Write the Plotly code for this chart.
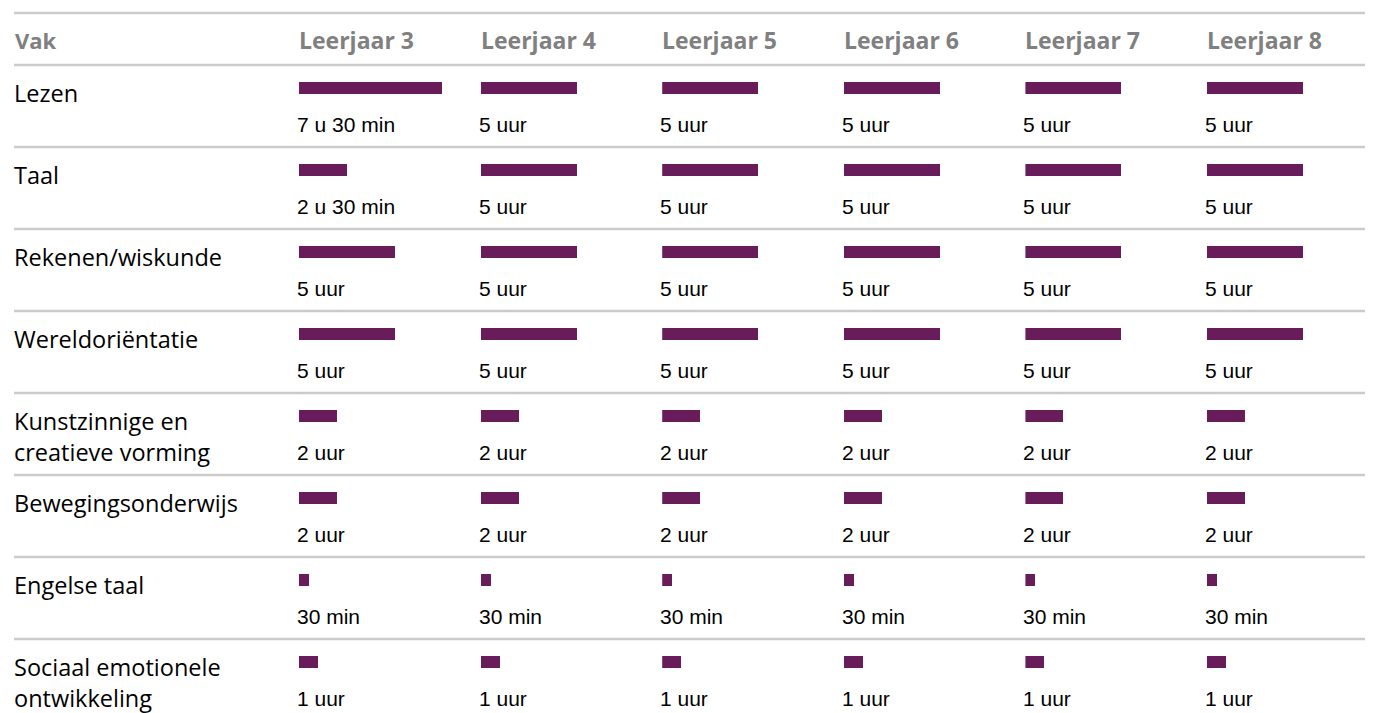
import plotly.graph_objects as go

# ---- data ----
subjects = ["Lezen", "Taal", "Rekenen/wiskunde", "Wereldoriëntatie",
            "Kunstzinnige en<br>creatieve vorming", "Bewegingsonderwijs",
            "Engelse taal", "Sociaal emotionele<br>ontwikkeling"]
years = ["Leerjaar 3", "Leerjaar 4", "Leerjaar 5", "Leerjaar 6", "Leerjaar 7", "Leerjaar 8"]
hours_l3 = [7.5, 2.5, 5, 5, 2, 2, 0.5, 1]
hours_l4 = [5, 5, 5, 5, 2, 2, 0.5, 1]
hours_l5 = [5, 5, 5, 5, 2, 2, 0.5, 1]
hours_l6 = [5, 5, 5, 5, 2, 2, 0.5, 1]
hours_l7 = [5, 5, 5, 5, 2, 2, 0.5, 1]
hours_l8 = [5, 5, 5, 5, 2, 2, 0.5, 1]
label_l3 = ["7 u 30 min", "2 u 30 min", "5 uur", "5 uur", "2 uur", "2 uur", "30 min", "1 uur"]
label_l4 = ["5 uur", "5 uur", "5 uur", "5 uur", "2 uur", "2 uur", "30 min", "1 uur"]
label_l5 = label_l4
label_l6 = label_l4
label_l7 = label_l4
label_l8 = label_l4

hours = [hours_l3, hours_l4, hours_l5, hours_l6, hours_l7, hours_l8]
labels = [label_l3, label_l4, label_l5, label_l6, label_l7, label_l8]

# ---- layout constants (pixels, in page coordinates; page body has an 8px margin) ----
OFF = 8
W, H = 1373 - OFF, 713 - OFF
ROW_H = 82
ROW0_CENTER = 88 - OFF
COL0 = 299 - OFF
COL_STEP = 181.6
PX_PER_HOUR = 19.1
COL_W = 160
BAR_COLOR = "#681d5a"
LINE_COLOR = "#cbcbcb"
LABEL_FONT = "Open Sans"
VALUE_FONT = "Arial, Liberation Sans"

def ypx(p):
    """page pixel -> y data units"""
    return (p - OFF - ROW0_CENTER) / ROW_H

def xpx(p):
    return (p - OFF) / W

rows = list(range(len(subjects)))
fig = go.Figure()
layout = {}
annotations = []
for j, yr in enumerate(years):
    ax = "x" if j == 0 else f"x{j+1}"
    left = COL0 + COL_STEP * j
    key = "xaxis" if j == 0 else f"xaxis{j+1}"
    layout[key] = dict(domain=[left / W, (left + COL_W) / W], range=[0, COL_W / PX_PER_HOUR],
                       visible=False, fixedrange=True)
    if j > 0:
        layout[key]["anchor"] = "y"
    fig.add_trace(go.Bar(x=hours[j], y=rows, orientation="h", xaxis=ax, yaxis="y",
                         width=12 / ROW_H, marker=dict(color=BAR_COLOR, line=dict(width=0)),
                         showlegend=False, hoverinfo="skip"))
    for r, txt in enumerate(labels[j]):
        annotations.append(dict(x=0, y=r + 36 / ROW_H, xref=ax, yref="y", text=txt,
                                showarrow=False, xanchor="left", yanchor="middle", xshift=-4,
                                font=dict(family=VALUE_FONT, size=21, color="#000000")))
    annotations.append(dict(x=(left - 2) / W, y=ypx(40), xref="paper", yref="y", text=f"<b>{yr}</b>",
                            showarrow=False, xanchor="left", yanchor="middle",
                            font=dict(family=LABEL_FONT, size=23, color="#808080")))

annotations.append(dict(x=xpx(13), y=ypx(40), xref="paper", yref="y", text="<b>Vak</b>",
                        showarrow=False, xanchor="left", yanchor="middle",
                        font=dict(family=LABEL_FONT, size=22, color="#808080")))
for r, s in enumerate(subjects):
    for k, line in enumerate(s.split("<br>")):
        annotations.append(dict(x=xpx(12), y=r + (5 + 31 * k) / ROW_H, xref="paper", yref="y",
                                text=line, showarrow=False, xanchor="left", yanchor="middle",
                                font=dict(family=LABEL_FONT, size=23.5, color="#000000")))

shapes = []
line_ys = [13, 65] + [65 + ROW_H * (r + 1) for r in range(len(subjects) - 1)]
for p in line_ys:
    shapes.append(dict(type="line", xref="paper", yref="y", x0=xpx(14), x1=xpx(1368),
                       y0=ypx(p), y1=ypx(p), line=dict(color=LINE_COLOR, width=2.5)))

fig.update_layout(
    width=W, height=H, margin=dict(l=0, r=0, t=0, b=0),
    paper_bgcolor="white", plot_bgcolor="white",
    yaxis=dict(range=[ypx(713), ypx(OFF)], visible=False, fixedrange=True),
    annotations=annotations, shapes=shapes, bargap=0, showlegend=False,
    **layout,
)
fig.write_html("out.html")
